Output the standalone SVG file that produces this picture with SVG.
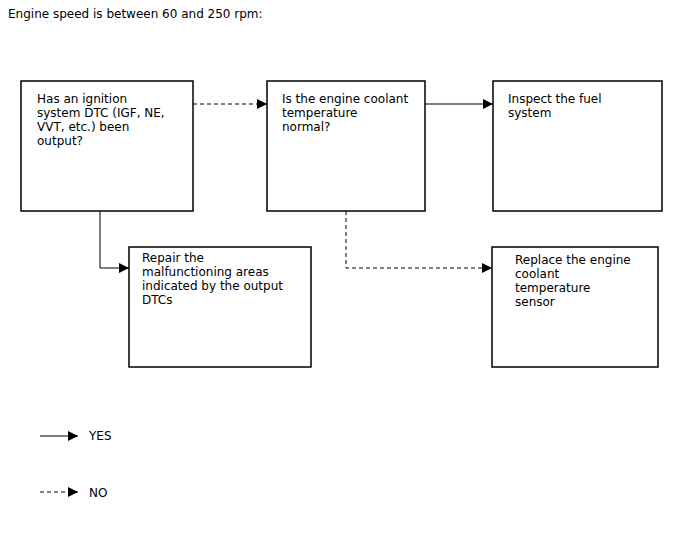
<svg xmlns="http://www.w3.org/2000/svg" width="688" height="560" viewBox="0 0 688 560">
<style>
.box{fill:#fff;stroke:#000;stroke-width:1.5}
.t{font-family:"DejaVu Sans",sans-serif;font-size:12px;fill:#000}
.ln{fill:none;stroke:#000;stroke-width:1}
.dash{stroke-dasharray:4 3}
</style>
<defs>
<marker id="ah" markerWidth="10" markerHeight="10" refX="10" refY="5" orient="auto" markerUnits="userSpaceOnUse">
<path d="M0,0 L10,5 L0,10 Z" fill="#000"/>
</marker>
</defs>
<rect width="688" height="560" fill="#fff"/>
<text class="t" x="8" y="18">Engine speed is between 60 and 250 rpm:</text>
<g id="connectors">
<path class="ln dash" d="M193,104 H267" marker-end="url(#ah)"/>
<path class="ln" d="M425,104 H493" marker-end="url(#ah)"/>
<path class="ln" d="M100,211 V268 H129" marker-end="url(#ah)"/>
<path class="ln dash" d="M346,211 V268 H492" marker-end="url(#ah)"/>
</g>
<g id="n1"><rect class="box" x="21" y="81" width="172" height="130"/>
<text class="t" x="37" y="103">Has an ignition</text>
<text class="t" x="37" y="117">system DTC (IGF, NE,</text>
<text class="t" x="37" y="131">VVT, etc.) been</text>
<text class="t" x="37" y="145">output?</text></g>
<g id="n2"><rect class="box" x="267" y="81" width="158" height="130"/>
<text class="t" x="282" y="103">Is the engine coolant</text>
<text class="t" x="282" y="117">temperature</text>
<text class="t" x="282" y="131">normal?</text></g>
<g id="n3"><rect class="box" x="493" y="81" width="169" height="130"/>
<text class="t" x="508" y="103">Inspect the fuel</text>
<text class="t" x="508" y="117">system</text></g>
<g id="n4"><rect class="box" x="129" y="247" width="182" height="120"/>
<text class="t" x="142" y="262">Repair the</text>
<text class="t" x="142" y="276">malfunctioning areas</text>
<text class="t" x="142" y="290">indicated by the output</text>
<text class="t" x="142" y="304">DTCs</text></g>
<g id="n5"><rect class="box" x="492" y="247" width="166" height="120"/>
<text class="t" x="515" y="264">Replace the engine</text>
<text class="t" x="515" y="278">coolant</text>
<text class="t" x="515" y="292">temperature</text>
<text class="t" x="515" y="306">sensor</text></g>
<g id="legend">
<path class="ln" d="M40,436 H78" marker-end="url(#ah)"/>
<text class="t" x="89" y="440">YES</text>
<path class="ln dash" d="M40,492 H78" marker-end="url(#ah)"/>
<text class="t" x="89" y="497">NO</text>
</g>
</svg>
